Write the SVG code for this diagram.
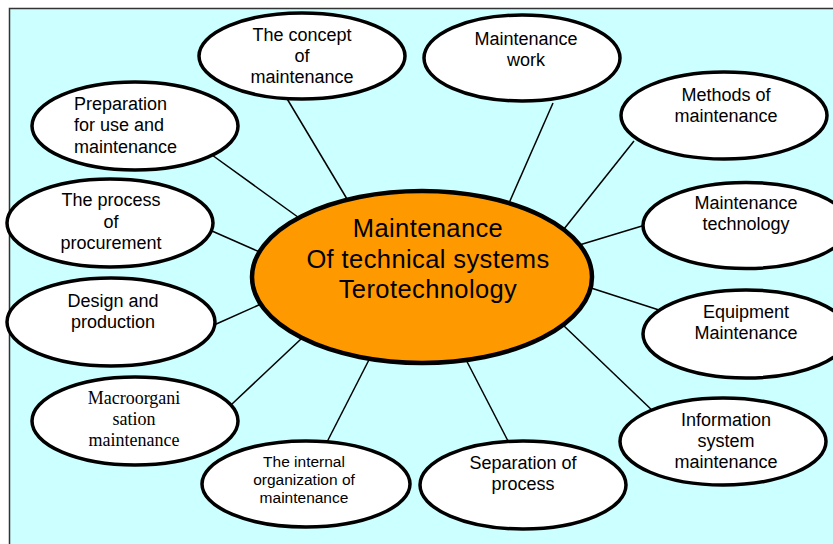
<svg xmlns="http://www.w3.org/2000/svg" width="833" height="544" viewBox="0 0 833 544">
<style>
.bg{fill:#CCFFFF;stroke:#333;stroke-width:1.5}
.node{fill:#fff;stroke:#000;stroke-width:3.5}
.hub{fill:#FF9900;stroke:#000;stroke-width:4.5}
.t{font-family:"Liberation Sans",Arial,sans-serif;font-size:18px;fill:#000;text-anchor:middle}
.ts{font-family:"Liberation Sans",Arial,sans-serif;font-size:15.5px;fill:#000;text-anchor:middle}
.tr{font-family:"Liberation Serif","Times New Roman",serif;font-size:18px;fill:#000;text-anchor:middle}
.th{font-family:"Liberation Sans",Arial,sans-serif;font-size:25.5px;letter-spacing:0.4px;fill:#000;text-anchor:middle}
.c line{stroke:#000;stroke-width:1.5}
</style>
<rect class="bg" x="9.5" y="8.5" width="830" height="540"/>
<g id="connectors" class="c">
<line x1="286" y1="97" x2="350" y2="204"/>
<line x1="553" y1="103" x2="506" y2="210"/>
<line x1="634" y1="141" x2="560" y2="234"/>
<line x1="212" y1="155" x2="302" y2="220"/>
<line x1="212" y1="231" x2="262" y2="253"/>
<line x1="214" y1="325" x2="261" y2="304"/>
<line x1="232" y1="404" x2="301" y2="339"/>
<line x1="327" y1="442" x2="374" y2="350"/>
<line x1="508" y1="441" x2="461" y2="350"/>
<line x1="656" y1="414" x2="563" y2="325"/>
<line x1="659" y1="310" x2="588" y2="287"/>
<line x1="642" y1="226" x2="576" y2="246"/>
</g>
<g id="hub">
<ellipse class="hub" cx="422" cy="277" rx="170" ry="86"/>
<text class="th" x="428" y="237">Maintenance</text>
<text class="th" x="428" y="268">Of technical systems</text>
<text class="th" x="428" y="298">Terotechnology</text>
</g>
<g id="n-concept">
<ellipse class="node" cx="302" cy="56" rx="103" ry="43"/>
<text class="t" x="302" y="41">The concept</text>
<text class="t" x="302" y="62">of</text>
<text class="t" x="302" y="83">maintenance</text>
</g>
<g id="n-work">
<ellipse class="node" cx="522" cy="58" rx="98" ry="43"/>
<text class="t" x="526" y="45">Maintenance</text>
<text class="t" x="526" y="66">work</text>
</g>
<g id="n-methods">
<ellipse class="node" cx="724" cy="115.5" rx="103" ry="43.5"/>
<text class="t" x="726" y="101">Methods of</text>
<text class="t" x="726" y="122">maintenance</text>
</g>
<g id="n-preparation">
<ellipse class="node" cx="135" cy="126" rx="103" ry="44"/>
<text class="t" x="74" y="110" style="text-anchor:start">Preparation</text>
<text class="t" x="74" y="131" style="text-anchor:start">for use and</text>
<text class="t" x="74" y="153" style="text-anchor:start">maintenance</text>
</g>
<g id="n-procurement">
<ellipse class="node" cx="110" cy="223" rx="103" ry="44"/>
<text class="t" x="111" y="206">The process</text>
<text class="t" x="111" y="228">of</text>
<text class="t" x="111" y="249">procurement</text>
</g>
<g id="n-design">
<ellipse class="node" cx="111" cy="322" rx="104" ry="44"/>
<text class="t" x="113" y="307">Design and</text>
<text class="t" x="113" y="328">production</text>
</g>
<g id="n-macro">
<ellipse class="node" cx="135" cy="421" rx="103" ry="44"/>
<text class="tr" x="134" y="404">Macroorgani</text>
<text class="tr" x="134" y="425">sation</text>
<text class="tr" x="134" y="446">maintenance</text>
</g>
<g id="n-internal">
<ellipse class="node" cx="306" cy="484" rx="104" ry="43"/>
<text class="ts" x="304" y="467">The internal</text>
<text class="ts" x="304" y="485">organization of</text>
<text class="ts" x="304" y="503">maintenance</text>
</g>
<g id="n-separation">
<ellipse class="node" cx="523" cy="485" rx="103" ry="44"/>
<text class="t" x="523" y="469">Separation of</text>
<text class="t" x="523" y="490">process</text>
</g>
<g id="n-information">
<ellipse class="node" cx="723" cy="441.5" rx="103" ry="43.5"/>
<text class="t" x="726" y="426">Information</text>
<text class="t" x="726" y="447">system</text>
<text class="t" x="726" y="468">maintenance</text>
</g>
<g id="n-technology">
<ellipse class="node" cx="746" cy="225.5" rx="103" ry="43"/>
<text class="t" x="746" y="209">Maintenance</text>
<text class="t" x="746" y="230">technology</text>
</g>
<g id="n-equipment">
<ellipse class="node" cx="746" cy="334" rx="103" ry="44"/>
<text class="t" x="746" y="318">Equipment</text>
<text class="t" x="746" y="339">Maintenance</text>
</g>
</svg>
